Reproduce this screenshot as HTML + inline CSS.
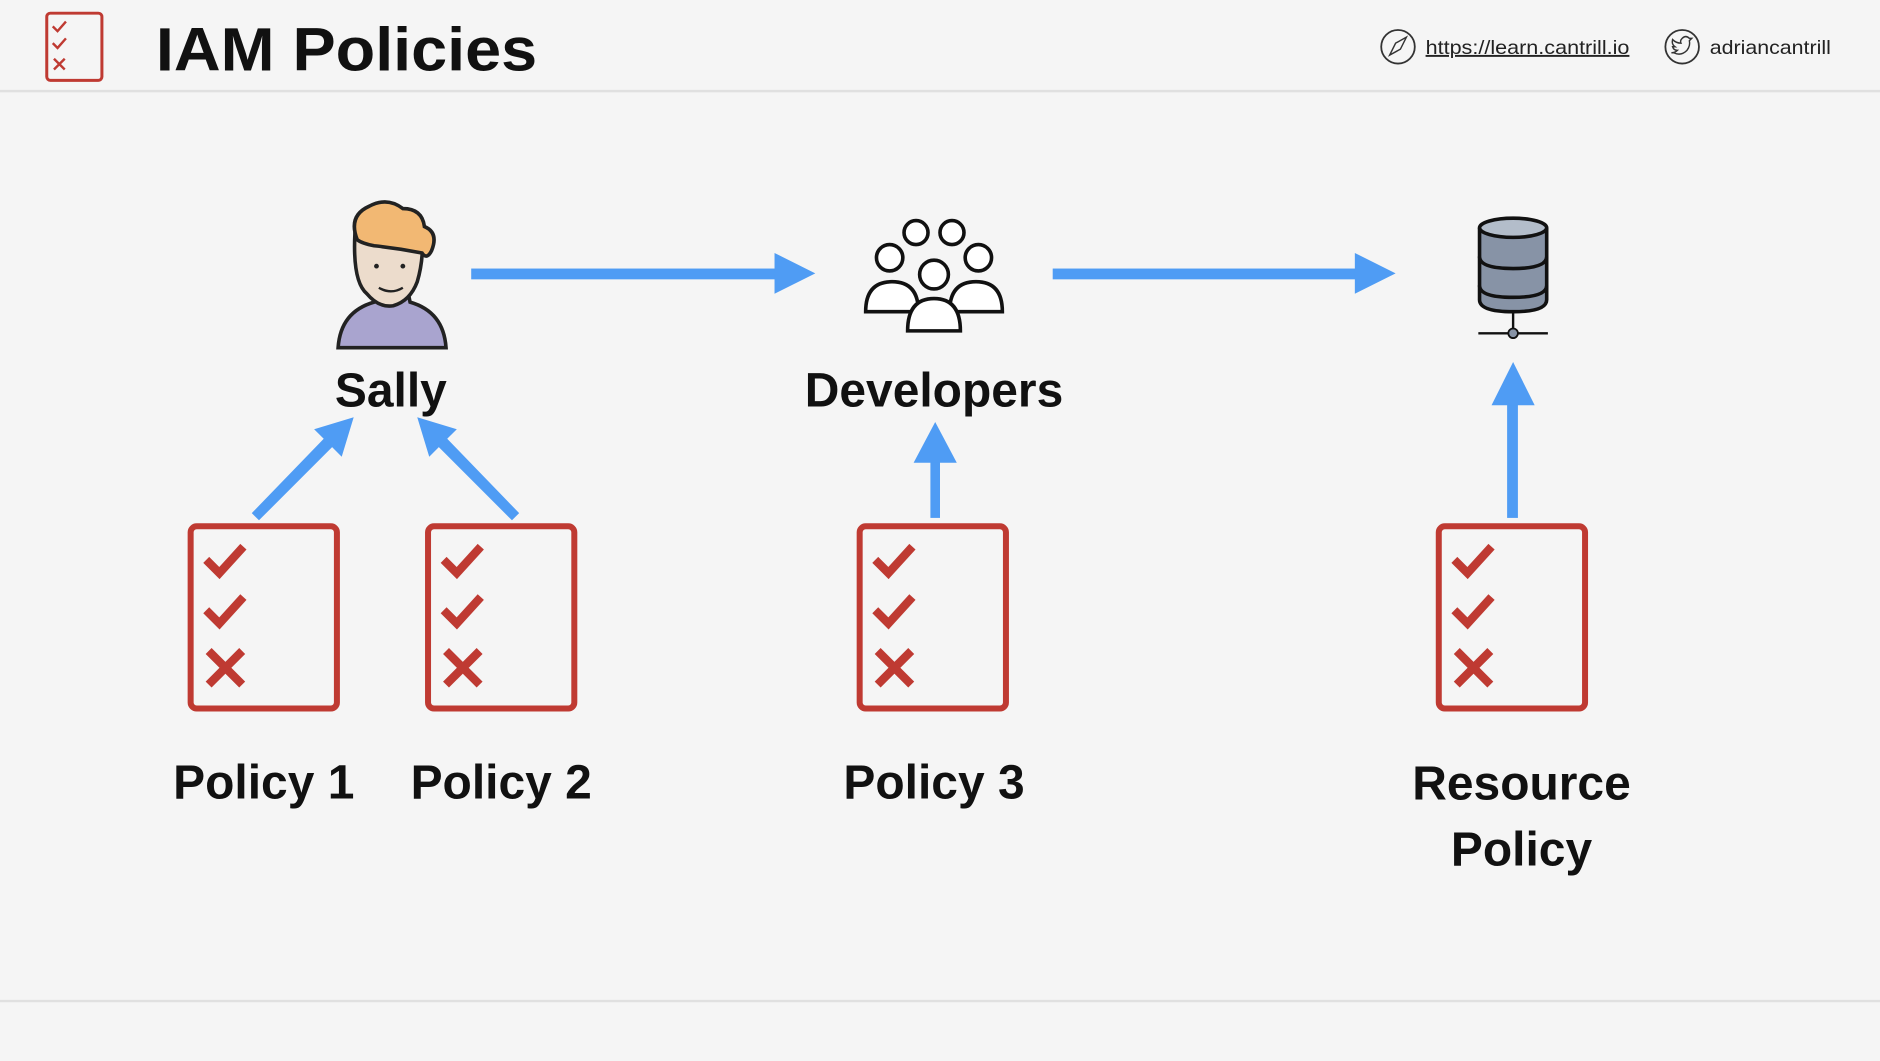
<!DOCTYPE html>
<html><head><meta charset="utf-8"><style>
html,body{margin:0;padding:0;background:#f5f5f5;}
svg{display:block;}
text{font-family:"Liberation Sans",sans-serif;}
</style></head><body>
<svg width="1880" height="1061" viewBox="0 0 1568 885" preserveAspectRatio="none" xmlns="http://www.w3.org/2000/svg">
<defs>
<g id="doc">
<rect x="2" y="2" width="122" height="152" rx="5" fill="none" stroke="#bf3a32" stroke-width="5"/>
<path d="M15 30 L26 41 L46 19 M15 72 L26 83 L46 61" fill="none" stroke="#bf3a32" stroke-width="7"/>
<path d="M17 106 L45 134 M45 106 L17 134" stroke="#bf3a32" stroke-width="7"/>
</g>
</defs>
<rect width="1568" height="885" fill="#f5f5f5"/>
<line x1="0" y1="76" x2="1568" y2="76" stroke="#e0e0e0" stroke-width="2"/>
<line x1="0" y1="835" x2="1568" y2="835" stroke="#e0e0e0" stroke-width="2"/>
<rect x="39" y="11" width="46" height="56" rx="3" fill="none" stroke="#bf3a32" stroke-width="2.5"/>
<path d="M44 22 l4 4 l7 -8 M44 36 l4 4 l7 -8" fill="none" stroke="#bf3a32" stroke-width="2"/>
<path d="M45 49 l9 9 M54 49 l-9 9" stroke="#bf3a32" stroke-width="2"/>
<text x="130" y="59" font-size="51" font-weight="bold" fill="#111" textLength="318" lengthAdjust="spacingAndGlyphs">IAM Policies</text>
<circle cx="1166" cy="39" r="14" fill="none" stroke="#333" stroke-width="1.5"/>
<path d="M1159 46 l5 -10 l9 -5 l-5 10z" fill="none" stroke="#333" stroke-width="1.2"/>
<text x="1189" y="45" font-size="16" fill="#222" text-decoration="underline" textLength="170" lengthAdjust="spacingAndGlyphs">https://learn.cantrill.io</text>
<circle cx="1403" cy="39" r="14" fill="none" stroke="#333" stroke-width="1.5"/>
<path d="M1396 44 q6 3 11 -2 q3 -4 2 -8 l2 -2 l-2 0 q-3 -3 -6 0 q-2 2 -1 4 q-4 0 -7 -3 q-1 4 2 6 l-2 0 q1 3 4 3 q-2 2 -5 2z" fill="none" stroke="#333" stroke-width="1.2"/>
<text x="1426" y="45" font-size="16" fill="#222" textLength="101" lengthAdjust="spacingAndGlyphs">adriancantrill</text>

<path d="M282 290 q2 -30 30 -38 l4 -20 l22 0 l4 20 q28 8 30 38z" fill="#a9a4cf" stroke="#222" stroke-width="3"/>
<path d="M296 195 q-2 40 10 50 q10 12 22 10 q14 -4 20 -20 q6 -20 4 -45z" fill="#ecdccc" stroke="#222" stroke-width="3"/>
<path d="M298 200 q-8 -20 10 -28 q15 -8 28 2 q16 0 18 15 q12 5 6 20 q-4 8 -8 2 q-20 -4 -40 -6 q-10 -2 -14 -5z" fill="#f2b873" stroke="#222" stroke-width="3"/>
<path d="M316 240 q10 6 20 0" fill="none" stroke="#222" stroke-width="2"/>
<circle cx="314" cy="222" r="2" fill="#222"/><circle cx="336" cy="222" r="2" fill="#222"/>
<g fill="#fff" stroke="#111" stroke-width="3">
<circle cx="764" cy="194" r="10"/><circle cx="794" cy="194" r="10"/>
<circle cx="742" cy="215" r="11"/><circle cx="816" cy="215" r="11"/>
<circle cx="779" cy="229" r="12"/>
<path d="M722 260 q0 -25 22 -25 q22 0 22 25z"/>
<path d="M792 260 q0 -25 22 -25 q22 0 22 25z"/>
<path d="M757 276 q0 -27 22 -27 q22 0 22 27z"/>
</g>
<g stroke="#111" stroke-width="3" fill="#8793a6">
<path d="M1234 238 v12 q0 10 28 10 q28 0 28 -10 v-12"/>
<path d="M1234 214 v24 q0 10 28 10 q28 0 28 -10 v-24"/>
<path d="M1234 190 v24 q0 10 28 10 q28 0 28 -10 v-24"/>
<ellipse cx="1262" cy="190" rx="28" ry="8" fill="#b3bdca"/>
</g>
<line x1="1262" y1="260" x2="1262" y2="276" stroke="#111" stroke-width="2"/>
<line x1="1233" y1="278" x2="1291" y2="278" stroke="#111" stroke-width="2"/>
<circle cx="1262" cy="278" r="4" fill="#8793a6" stroke="#111" stroke-width="1.5"/>

<g fill="#4f9cf4">
<rect x="393" y="224" width="256" height="9"/><polygon points="646,211 680,228 646,245"/>
<rect x="878" y="224" width="256" height="9"/><polygon points="1130,211 1164,228 1130,245"/>
<rect x="776" y="383" width="8" height="49"/><polygon points="762,386 780,352 798,386"/>
<rect x="1257" y="334" width="9" height="98"/><polygon points="1244,338 1262,302 1280,338"/>
<polygon points="210,428 216,434 277,373 285,381 295,348 262,358 270,366"/>
<polygon points="433,428 427,434 366,373 358,381 348,348 381,358 373,366"/>
</g>

<use href="#doc" x="157" y="437"/>
<use href="#doc" x="355" y="437"/>
<use href="#doc" x="715" y="437"/>
<use href="#doc" x="1198" y="437"/>

<g font-size="40" font-weight="bold" fill="#111" text-anchor="middle">
<text x="326" y="339">Sally</text>
<text x="779" y="339">Developers</text>
<text x="220" y="666">Policy 1</text>
<text x="418" y="666">Policy 2</text>
<text x="779" y="666">Policy 3</text>
<text x="1269" y="667">Resource</text>
<text x="1269" y="722">Policy</text>
</g>
</svg>
</body></html>
